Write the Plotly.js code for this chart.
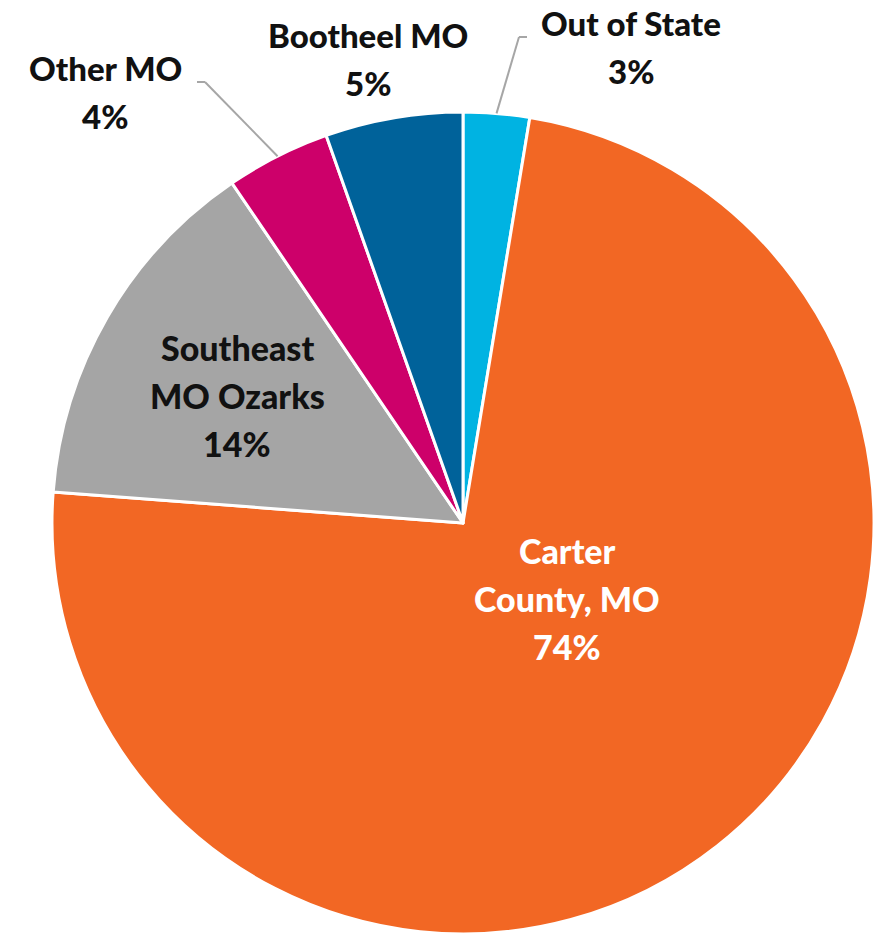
<!DOCTYPE html>
<html>
<head>
<meta charset="utf-8">
<script src="https://cdn.plot.ly/plotly-3.0.1.min.js"></script>
<style>html,body{margin:0;padding:0;background:#fff;}#chart{width:876px;height:934px;}</style>
</head>
<body>
<div id="chart"></div>
<script>
// ---- data ----
var categories = ["Out of State", "Carter County, MO", "Southeast MO Ozarks", "Other MO", "Bootheel MO"];
var values = [2.6, 73.6, 14.3, 4.1, 5.4];
var colors = ["#00B3E2", "#F26724", "#A5A5A5", "#CD006A", "#00629A"];
// label line breaks as shown in the chart
var labelLines = [["Out of State"], ["Carter", "County, MO"], ["Southeast", "MO Ozarks"], ["Other MO"], ["Bootheel MO"]];

// ---- geometry (pixels) ----
var W = 876, H = 934;
var pieCX = 463, pieTop = 112, pieR = 411;
var pieCY = pieTop + pieR;
function px(x){ return x / W; }
function py(y){ return 1 - y / H; }

var total = values.reduce(function(a,b){return a+b;},0);
var pcts = values.map(function(v){ return Math.round(v / total * 100) + "%"; });

var font = "Lato, 'Open Sans', sans-serif";
var labelPos = [
  {x: 631, y: 35, color: "#111", size: 33, ls: 48, leader: {ex: 519, ey: 37, hx: 527}},
  {x: 567, y: 563, color: "#ffffff", size: 34, ls: 48},
  {x: 237, y: 360, color: "#111", size: 34, ls: 48},
  {x: 105, y: 80, color: "#111", size: 33, ls: 48, leader: {ex: 205, ey: 82, hx: 197}},
  {x: 368, y: 47, color: "#111", size: 33, ls: 48}
];

var annotations = [];
var shapes = [];
var cum = 0;
categories.forEach(function(c, i){
  var mid = (cum + values[i] / 2) / total * 2 * Math.PI;
  cum += values[i];
  var p = labelPos[i];
  var lines = labelLines[i].concat([pcts[i]]);
  lines.forEach(function(t, k){
    var base = p.y + k * p.ls;
    annotations.push({
      xref: "paper", yref: "paper",
      x: px(p.x), y: py(base - p.size * 0.36),
      xanchor: "center", yanchor: "middle",
      text: t, showarrow: false,
      font: {family: font, size: p.size, color: p.color, weight: 900}
    });
  });
  if (p.leader) {
    var sx = pieCX + pieR * Math.sin(mid), sy = pieCY - pieR * Math.cos(mid);
    var ln = {color: "#A6A6A6", width: 2};
    shapes.push({type: "line", xref: "paper", yref: "paper",
      x0: px(sx), y0: py(sy), x1: px(p.leader.ex), y1: py(p.leader.ey), line: ln});
    shapes.push({type: "line", xref: "paper", yref: "paper",
      x0: px(p.leader.ex), y0: py(p.leader.ey), x1: px(p.leader.hx), y1: py(p.leader.ey), line: ln});
  }
});

var trace = {
  type: "pie",
  labels: categories,
  values: values,
  sort: false,
  direction: "clockwise",
  rotation: 0,
  textinfo: "none",
  hoverinfo: "label+percent",
  marker: {colors: colors, line: {color: "#ffffff", width: 3}},
  domain: {x: [px(pieCX - pieR), px(pieCX + pieR)], y: [py(pieCY + pieR), py(pieCY - pieR)]}
};

var layout = {
  width: W, height: H,
  margin: {l: 0, r: 0, t: 0, b: 0},
  paper_bgcolor: "#ffffff",
  showlegend: false,
  annotations: annotations,
  shapes: shapes
};

Plotly.newPlot("chart", [trace], layout, {displayModeBar: false, staticPlot: true});
</script>
</body>
</html>
